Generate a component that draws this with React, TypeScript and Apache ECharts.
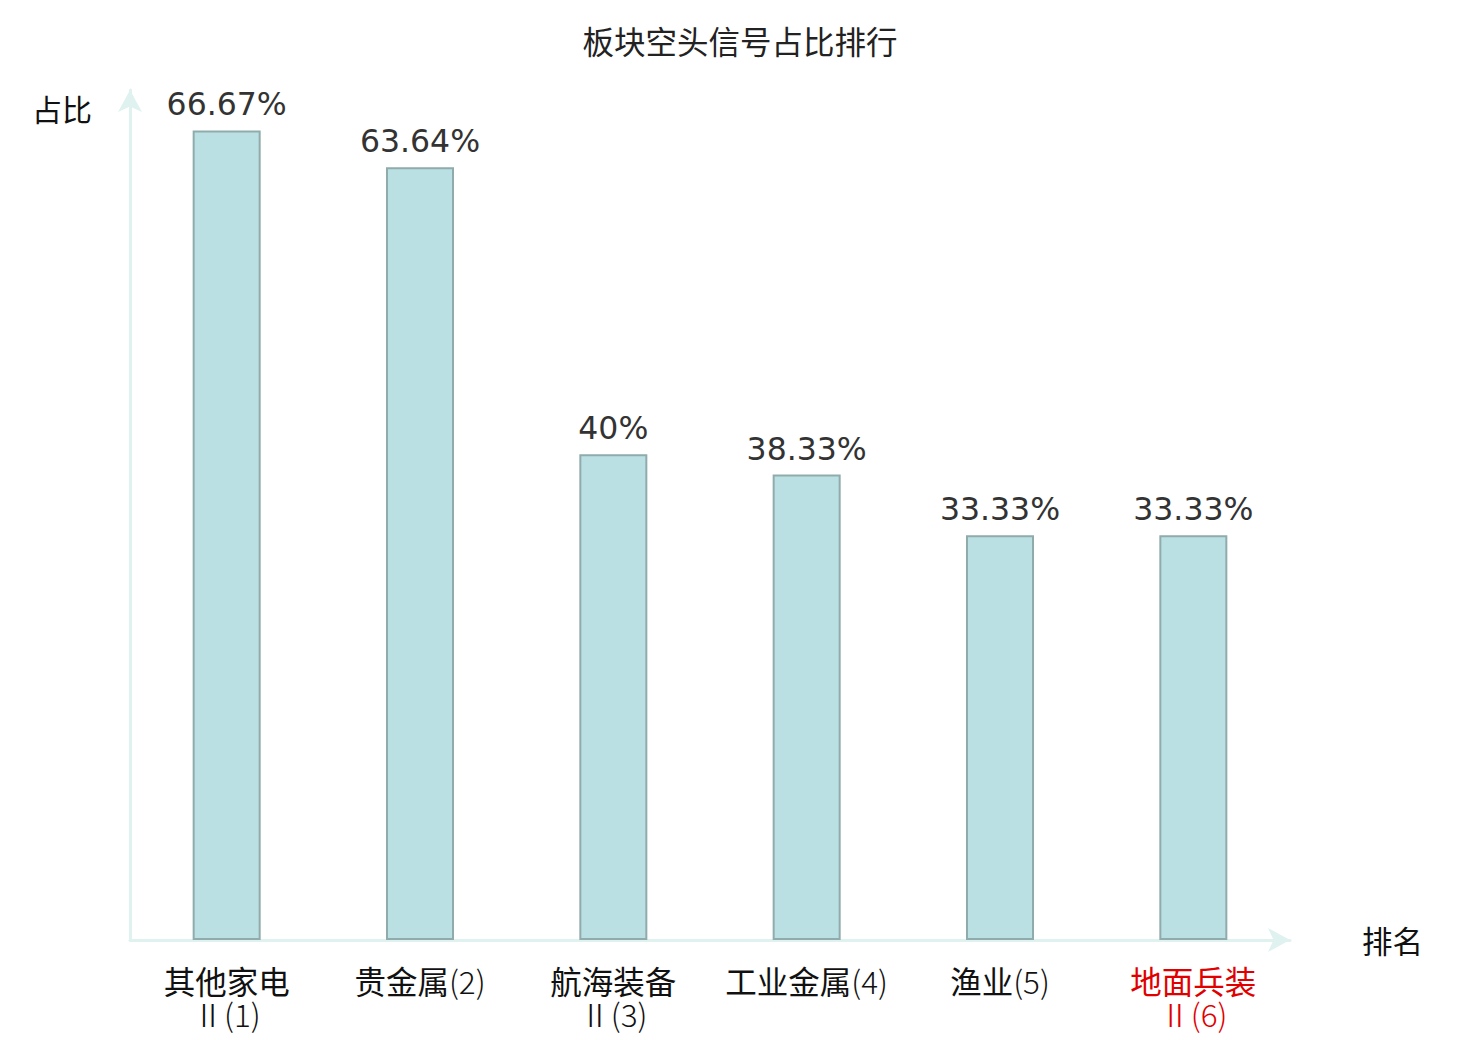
import React, { useEffect, useRef } from "react";
import * as echarts from "echarts";

const categories = ["其他家电Ⅱ(1)", "贵金属(2)", "航海装备Ⅱ(3)", "工业金属(4)", "渔业(5)", "地面兵装Ⅱ(6)"];
const values = [66.67, 63.64, 40, 38.33, 33.33, 33.33];
const highlighted = ["地面兵装Ⅱ(6)"];

function fmtLabel(v: string) {
  const m = v.match(/^(.*?)([Ⅱ(].*)$/);
  if (!m) return `{a|${v}}`;
  const head = m[1];
  const tail = m[2];
  if (tail.startsWith("Ⅱ")) return `{a|${head}}\n{b|${tail}}`;
  return `{a|${head}}{b|${tail}}`;
}

export default function App() {
  const ref = useRef<HTMLDivElement>(null);
  useEffect(() => {
    const chart = echarts.init(ref.current!, null, { renderer: "svg" });
    chart.setOption({
      animation: false,
      backgroundColor: "#ffffff",
      title: {
        text: "板块空头信号占比排行",
        left: "center",
        top: 19,
        textStyle: { fontSize: 31.5, fontWeight: "normal", color: "#222", fontFamily: "Noto Sans CJK SC" },
      },
      grid: { left: 130, right: 190, top: 90, bottom: 100, outerBoundsMode: "none" },
      xAxis: {
        type: "category",
        data: categories.map((c) =>
          highlighted.includes(c) ? { value: c, textStyle: { color: "#e00000" } } : c
        ),
        name: "排名",
        nameLocation: "end",
        nameGap: 72,
        nameTextStyle: { fontSize: 30.5, color: "#111", fontFamily: "Noto Sans CJK SC" },
        axisLine: { show: true, symbol: ["none", "arrow"], symbolSize: [18, 22], lineStyle: { color: "#dff2ef", width: 3 } },
        axisTick: { show: false },
        axisLabel: {
          fontSize: 31,
          color: "#111",
          margin: 23,
          interval: 0,
          fontFamily: "Noto Sans CJK SC",
          formatter: fmtLabel,
          rich: {
            a: { fontSize: 31.5, lineHeight: 33, fontFamily: "Noto Sans CJK SC" },
            b: { fontSize: 31.5, lineHeight: 33, fontFamily: "Noto Sans CJK SC", fontWeight: 300 },
          },
        },
      },
      yAxis: {
        type: "value",
        min: 0,
        max: 70,
        name: "占比",
        nameLocation: "end",
        nameGap: -3,
        nameTextStyle: {
          fontSize: 30,
          color: "#111",
          align: "right",
          verticalAlign: "top",
          padding: [0, 38, 0, 0],
          fontFamily: "Noto Sans CJK SC",
        },
        axisLine: { show: true, symbol: ["none", "arrow"], symbolSize: [18, 22], lineStyle: { color: "#dff2ef", width: 3 } },
        axisTick: { show: false },
        axisLabel: { show: false },
        splitLine: { show: false },
      },
      series: [
        {
          type: "bar",
          data: values,
          barWidth: 68,
          itemStyle: { color: "#bbe0e3", borderColor: "#8fabab", borderWidth: 2 },
          label: {
            show: true,
            position: "top",
            distance: 10,
            fontSize: 31.5,
            color: "#333",
            fontFamily: "DejaVu Sans",
            formatter: (p: any) => `${p.value}%`,
          },
        },
      ],
    });
    return () => chart.dispose();
  }, []);
  return <div ref={ref} style={{ position: "fixed", left: 0, top: 0, width: 1480, height: 1040 }} />;
}
